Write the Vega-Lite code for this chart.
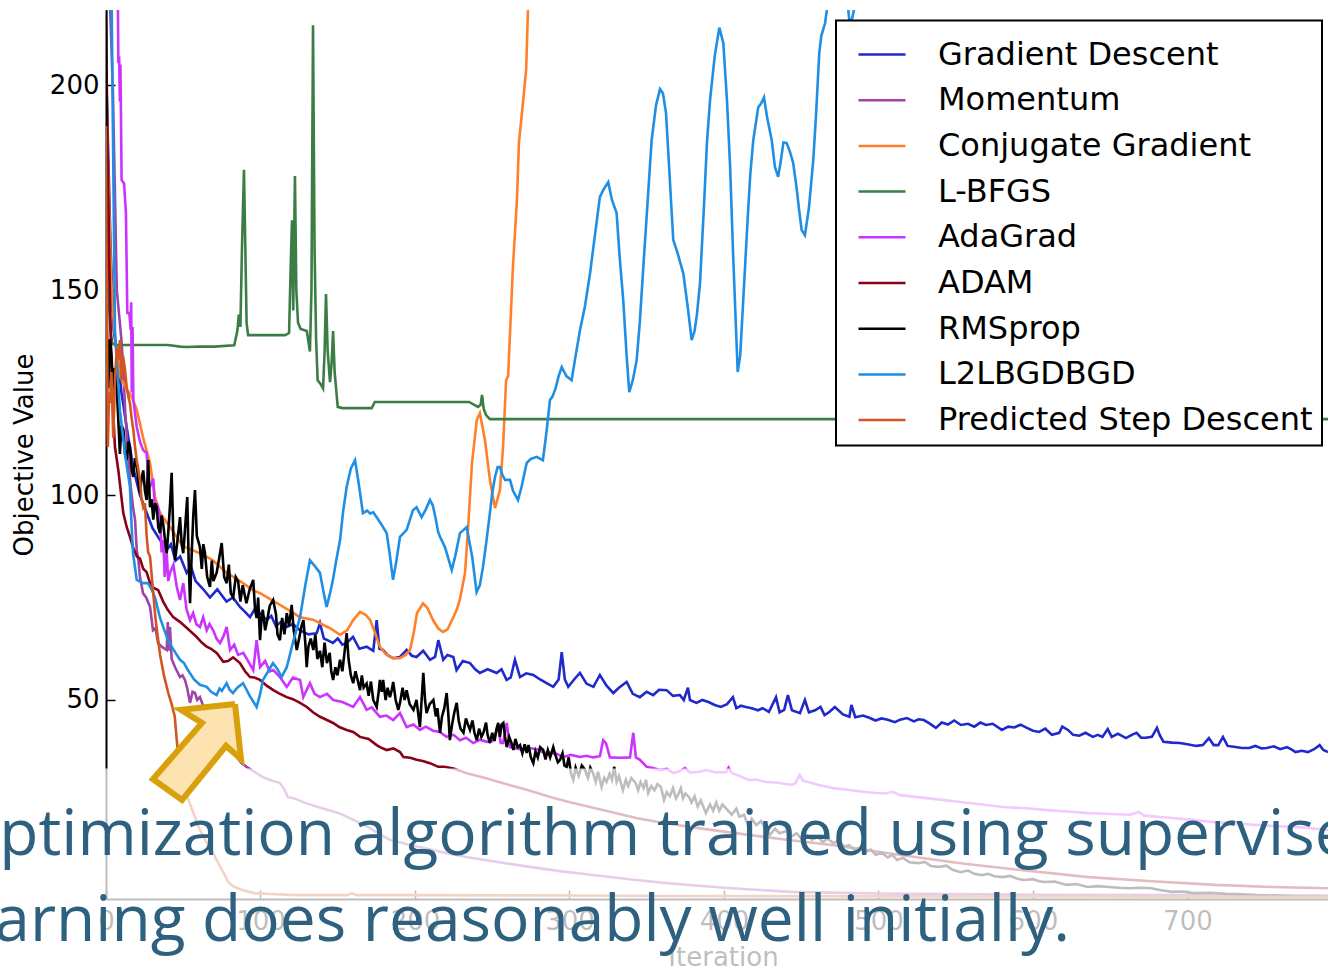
{
  "$schema": "https://vega.github.io/schema/vega-lite/v6.json",
  "width": 1222,
  "height": 889,
  "autosize": {"type": "none"},
  "padding": {"left": 106, "top": 10, "right": 0, "bottom": 69},
  "background": "white",
  "config": {
    "view": {"stroke": null},
    "font": "DejaVu Sans",
    "axis": {
      "grid": false,
      "labelFont": "DejaVu Sans",
      "labelFontSize": 26,
      "labelColor": "black",
      "titleFont": "DejaVu Sans",
      "titleFontSize": 26,
      "titleFontWeight": "normal",
      "titleColor": "black",
      "domainColor": "black",
      "domainWidth": 2,
      "tickColor": "black",
      "tickWidth": 1.5,
      "tickSize": -9,
      "labelOverlap": false,
      "labelFlush": false
    }
  },
  "datasets": {
    "curves": [
      {"m":"Gradient Descent","i":0,"v":205},{"m":"Gradient Descent","i":3,"v":160},{"m":"Gradient Descent","i":5,"v":140},{"m":"Gradient Descent","i":7,"v":135},{"m":"Gradient Descent","i":10,"v":125},{"m":"Gradient Descent","i":14,"v":115},{"m":"Gradient Descent","i":18,"v":106},{"m":"Gradient Descent","i":22,"v":100},{"m":"Gradient Descent","i":26,"v":96},{"m":"Gradient Descent","i":30,"v":92},{"m":"Gradient Descent","i":35,"v":89},{"m":"Gradient Descent","i":39.3,"v":86.6},{"m":"Gradient Descent","i":42,"v":88},{"m":"Gradient Descent","i":45,"v":84},{"m":"Gradient Descent","i":48,"v":85},{"m":"Gradient Descent","i":52.2,"v":81},{"m":"Gradient Descent","i":55,"v":82.5},{"m":"Gradient Descent","i":58,"v":79},{"m":"Gradient Descent","i":63,"v":77},{"m":"Gradient Descent","i":67.3,"v":75},{"m":"Gradient Descent","i":72,"v":77},{"m":"Gradient Descent","i":78,"v":74},{"m":"Gradient Descent","i":82.2,"v":75},{"m":"Gradient Descent","i":86.7,"v":72.7},{"m":"Gradient Descent","i":90,"v":71.5},{"m":"Gradient Descent","i":93.2,"v":70.2},{"m":"Gradient Descent","i":96,"v":72},{"m":"Gradient Descent","i":99.7,"v":71.2},{"m":"Gradient Descent","i":104,"v":69.5},{"m":"Gradient Descent","i":107,"v":70.5},{"m":"Gradient Descent","i":110,"v":68},{"m":"Gradient Descent","i":113,"v":69},{"m":"Gradient Descent","i":117,"v":67.8},{"m":"Gradient Descent","i":121,"v":68.5},{"m":"Gradient Descent","i":125.6,"v":67},{"m":"Gradient Descent","i":131,"v":66},{"m":"Gradient Descent","i":136.4,"v":66.3},{"m":"Gradient Descent","i":138.5,"v":68.8},{"m":"Gradient Descent","i":141,"v":65},{"m":"Gradient Descent","i":144,"v":64.5},{"m":"Gradient Descent","i":146.9,"v":63.9},{"m":"Gradient Descent","i":150,"v":65},{"m":"Gradient Descent","i":153,"v":63.5},{"m":"Gradient Descent","i":155.8,"v":63.9},{"m":"Gradient Descent","i":159.9,"v":65.4},{"m":"Gradient Descent","i":164,"v":62.5},{"m":"Gradient Descent","i":168.7,"v":63},{"m":"Gradient Descent","i":173,"v":62},{"m":"Gradient Descent","i":175.2,"v":69.5},{"m":"Gradient Descent","i":177,"v":62.5},{"m":"Gradient Descent","i":179.3,"v":62.2},{"m":"Gradient Descent","i":182,"v":61},{"m":"Gradient Descent","i":185.8,"v":60.2},{"m":"Gradient Descent","i":190.3,"v":60.5},{"m":"Gradient Descent","i":194.6,"v":62.2},{"m":"Gradient Descent","i":198,"v":60.8},{"m":"Gradient Descent","i":201,"v":60.5},{"m":"Gradient Descent","i":205.3,"v":62},{"m":"Gradient Descent","i":209.7,"v":59.8},{"m":"Gradient Descent","i":213,"v":60.5},{"m":"Gradient Descent","i":215.1,"v":64.6},{"m":"Gradient Descent","i":218.3,"v":59.8},{"m":"Gradient Descent","i":221,"v":61},{"m":"Gradient Descent","i":224.8,"v":60.5},{"m":"Gradient Descent","i":226.9,"v":57.3},{"m":"Gradient Descent","i":231,"v":59.5},{"m":"Gradient Descent","i":235.6,"v":59},{"m":"Gradient Descent","i":239,"v":57.5},{"m":"Gradient Descent","i":242,"v":56.6},{"m":"Gradient Descent","i":247,"v":57.5},{"m":"Gradient Descent","i":252.9,"v":56.6},{"m":"Gradient Descent","i":256,"v":57.5},{"m":"Gradient Descent","i":259.3,"v":54.9},{"m":"Gradient Descent","i":262,"v":55.5},{"m":"Gradient Descent","i":264.7,"v":59.8},{"m":"Gradient Descent","i":268,"v":55.6},{"m":"Gradient Descent","i":272,"v":56.5},{"m":"Gradient Descent","i":276.6,"v":56.1},{"m":"Gradient Descent","i":281,"v":55},{"m":"Gradient Descent","i":285.2,"v":54.1},{"m":"Gradient Descent","i":289.5,"v":53.2},{"m":"Gradient Descent","i":293,"v":55},{"m":"Gradient Descent","i":295,"v":61.7},{"m":"Gradient Descent","i":297,"v":55},{"m":"Gradient Descent","i":299.2,"v":53.2},{"m":"Gradient Descent","i":303,"v":55},{"m":"Gradient Descent","i":306.8,"v":56.6},{"m":"Gradient Descent","i":311,"v":54},{"m":"Gradient Descent","i":315.5,"v":53.2},{"m":"Gradient Descent","i":319.7,"v":56.1},{"m":"Gradient Descent","i":324,"v":53.5},{"m":"Gradient Descent","i":328.4,"v":51.7},{"m":"Gradient Descent","i":332,"v":53},{"m":"Gradient Descent","i":337,"v":54.4},{"m":"Gradient Descent","i":341,"v":51.5},{"m":"Gradient Descent","i":345.6,"v":50.7},{"m":"Gradient Descent","i":350,"v":52},{"m":"Gradient Descent","i":354.2,"v":51.2},{"m":"Gradient Descent","i":358,"v":52.5},{"m":"Gradient Descent","i":362.9,"v":52.4},{"m":"Gradient Descent","i":367,"v":51},{"m":"Gradient Descent","i":371.5,"v":51.2},{"m":"Gradient Descent","i":374,"v":50},{"m":"Gradient Descent","i":376.7,"v":53},{"m":"Gradient Descent","i":378,"v":50},{"m":"Gradient Descent","i":382.2,"v":49.3},{"m":"Gradient Descent","i":386,"v":50},{"m":"Gradient Descent","i":390,"v":49.5},{"m":"Gradient Descent","i":394,"v":48.8},{"m":"Gradient Descent","i":398,"v":48.3},{"m":"Gradient Descent","i":402,"v":49},{"m":"Gradient Descent","i":405.8,"v":50.7},{"m":"Gradient Descent","i":408,"v":48},{"m":"Gradient Descent","i":411,"v":48.6},{"m":"Gradient Descent","i":414.2,"v":48.3},{"m":"Gradient Descent","i":418,"v":48},{"m":"Gradient Descent","i":422,"v":47.5},{"m":"Gradient Descent","i":425,"v":48},{"m":"Gradient Descent","i":429.1,"v":47.1},{"m":"Gradient Descent","i":433.7,"v":50.7},{"m":"Gradient Descent","i":436,"v":47},{"m":"Gradient Descent","i":439,"v":47.6},{"m":"Gradient Descent","i":441.4,"v":51.2},{"m":"Gradient Descent","i":444,"v":47.5},{"m":"Gradient Descent","i":449.2,"v":46.8},{"m":"Gradient Descent","i":452.4,"v":50},{"m":"Gradient Descent","i":455,"v":47},{"m":"Gradient Descent","i":459,"v":47.5},{"m":"Gradient Descent","i":462.5,"v":48.3},{"m":"Gradient Descent","i":465.1,"v":46.3},{"m":"Gradient Descent","i":468,"v":47},{"m":"Gradient Descent","i":471.8,"v":48.3},{"m":"Gradient Descent","i":477,"v":46.5},{"m":"Gradient Descent","i":481.2,"v":45.9},{"m":"Gradient Descent","i":482.5,"v":48.8},{"m":"Gradient Descent","i":485,"v":45.8},{"m":"Gradient Descent","i":490,"v":46.2},{"m":"Gradient Descent","i":494.5,"v":45.6},{"m":"Gradient Descent","i":498,"v":45},{"m":"Gradient Descent","i":502,"v":45.5},{"m":"Gradient Descent","i":506,"v":45.2},{"m":"Gradient Descent","i":510.7,"v":44.6},{"m":"Gradient Descent","i":514,"v":45.2},{"m":"Gradient Descent","i":518.4,"v":45.6},{"m":"Gradient Descent","i":523,"v":44.8},{"m":"Gradient Descent","i":526,"v":45.3},{"m":"Gradient Descent","i":529.4,"v":45.1},{"m":"Gradient Descent","i":533,"v":44.3},{"m":"Gradient Descent","i":537.2,"v":43.2},{"m":"Gradient Descent","i":541,"v":44.5},{"m":"Gradient Descent","i":545,"v":44},{"m":"Gradient Descent","i":549,"v":45},{"m":"Gradient Descent","i":553.4,"v":43.9},{"m":"Gradient Descent","i":558,"v":44.2},{"m":"Gradient Descent","i":562,"v":43.5},{"m":"Gradient Descent","i":566,"v":44.5},{"m":"Gradient Descent","i":569.5,"v":43.9},{"m":"Gradient Descent","i":574,"v":44.2},{"m":"Gradient Descent","i":579.9,"v":42.7},{"m":"Gradient Descent","i":584,"v":43.5},{"m":"Gradient Descent","i":588,"v":43.3},{"m":"Gradient Descent","i":592,"v":44},{"m":"Gradient Descent","i":596.1,"v":43.2},{"m":"Gradient Descent","i":600,"v":42.5},{"m":"Gradient Descent","i":604,"v":42.2},{"m":"Gradient Descent","i":608,"v":43},{"m":"Gradient Descent","i":612.3,"v":41.5},{"m":"Gradient Descent","i":617,"v":42},{"m":"Gradient Descent","i":619,"v":43.5},{"m":"Gradient Descent","i":622.7,"v":42.7},{"m":"Gradient Descent","i":626,"v":41.5},{"m":"Gradient Descent","i":630,"v":41.3},{"m":"Gradient Descent","i":634,"v":42},{"m":"Gradient Descent","i":638.8,"v":41},{"m":"Gradient Descent","i":642,"v":41.5},{"m":"Gradient Descent","i":645,"v":41},{"m":"Gradient Descent","i":648.4,"v":42.9},{"m":"Gradient Descent","i":651,"v":41},{"m":"Gradient Descent","i":655,"v":41.8},{"m":"Gradient Descent","i":660.2,"v":40.7},{"m":"Gradient Descent","i":664,"v":41.5},{"m":"Gradient Descent","i":667.1,"v":42},{"m":"Gradient Descent","i":670,"v":40.8},{"m":"Gradient Descent","i":673,"v":40.8},{"m":"Gradient Descent","i":677,"v":41},{"m":"Gradient Descent","i":680.3,"v":43.2},{"m":"Gradient Descent","i":682,"v":41.5},{"m":"Gradient Descent","i":684.5,"v":39.8},{"m":"Gradient Descent","i":690,"v":39.6},{"m":"Gradient Descent","i":695,"v":39.5},{"m":"Gradient Descent","i":700,"v":39.2},{"m":"Gradient Descent","i":705.8,"v":38.8},{"m":"Gradient Descent","i":710,"v":39},{"m":"Gradient Descent","i":713.9,"v":40.7},{"m":"Gradient Descent","i":717,"v":39},{"m":"Gradient Descent","i":720,"v":39},{"m":"Gradient Descent","i":723,"v":41},{"m":"Gradient Descent","i":726,"v":38.8},{"m":"Gradient Descent","i":730,"v":38.6},{"m":"Gradient Descent","i":735.3,"v":38.3},{"m":"Gradient Descent","i":740,"v":38.3},{"m":"Gradient Descent","i":744,"v":38.8},{"m":"Gradient Descent","i":748,"v":38.2},{"m":"Gradient Descent","i":751.3,"v":38.3},{"m":"Gradient Descent","i":756,"v":38.7},{"m":"Gradient Descent","i":760,"v":38},{"m":"Gradient Descent","i":764.4,"v":38.5},{"m":"Gradient Descent","i":767,"v":38},{"m":"Gradient Descent","i":770,"v":37.3},{"m":"Gradient Descent","i":774,"v":37.6},{"m":"Gradient Descent","i":778,"v":37.3},{"m":"Gradient Descent","i":782,"v":38},{"m":"Gradient Descent","i":785.6,"v":39},{"m":"Gradient Descent","i":788,"v":37.8},{"m":"Gradient Descent","i":791,"v":37.3},

      {"m":"Momentum","i":0,"v":250},{"m":"Momentum","i":4.5,"v":198},{"m":"Momentum","i":7,"v":150},{"m":"Momentum","i":10,"v":137.8},{"m":"Momentum","i":11,"v":132},{"m":"Momentum","i":12.5,"v":120},{"m":"Momentum","i":14.2,"v":110},{"m":"Momentum","i":16,"v":102},{"m":"Momentum","i":17.5,"v":97},{"m":"Momentum","i":18.8,"v":94},{"m":"Momentum","i":19.9,"v":86.6},{"m":"Momentum","i":21,"v":84},{"m":"Momentum","i":22,"v":80},{"m":"Momentum","i":24,"v":76},{"m":"Momentum","i":26,"v":75},{"m":"Momentum","i":28.5,"v":72.7},{"m":"Momentum","i":30.4,"v":67},{"m":"Momentum","i":32,"v":67.5},{"m":"Momentum","i":33.7,"v":63.9},{"m":"Momentum","i":36,"v":63},{"m":"Momentum","i":39.3,"v":62.2},{"m":"Momentum","i":40,"v":69},{"m":"Momentum","i":40.8,"v":62},{"m":"Momentum","i":41.4,"v":67.8},{"m":"Momentum","i":42.5,"v":60},{"m":"Momentum","i":44.7,"v":58},{"m":"Momentum","i":46,"v":57},{"m":"Momentum","i":47.9,"v":55.6},{"m":"Momentum","i":49.5,"v":56},{"m":"Momentum","i":51.1,"v":54.9},{"m":"Momentum","i":52.5,"v":53},{"m":"Momentum","i":54.4,"v":49.3},{"m":"Momentum","i":56,"v":52},{"m":"Momentum","i":57.6,"v":51.7},{"m":"Momentum","i":59,"v":50},{"m":"Momentum","i":60.8,"v":50.7},{"m":"Momentum","i":63,"v":48.5},{"m":"Momentum","i":66,"v":46.5},{"m":"Momentum","i":69,"v":45},{"m":"Momentum","i":72,"v":43},{"m":"Momentum","i":75,"v":41.5},{"m":"Momentum","i":78,"v":39.5},{"m":"Momentum","i":81,"v":37.8},{"m":"Momentum","i":84.6,"v":36.1},{"m":"Momentum","i":87.7,"v":34.6},{"m":"Momentum","i":91,"v":33.7},{"m":"Momentum","i":96,"v":32.5},{"m":"Momentum","i":101.4,"v":31.2},{"m":"Momentum","i":106,"v":30.5},{"m":"Momentum","i":112.4,"v":29.8},{"m":"Momentum","i":115,"v":28.5},{"m":"Momentum","i":117.8,"v":26.3},{"m":"Momentum","i":122,"v":26},{"m":"Momentum","i":128.8,"v":24.9},{"m":"Momentum","i":140,"v":23.6},{"m":"Momentum","i":150.8,"v":22.4},{"m":"Momentum","i":160,"v":20.8},{"m":"Momentum","i":170,"v":19},{"m":"Momentum","i":177,"v":17.3},{"m":"Momentum","i":183.7,"v":15.9},{"m":"Momentum","i":195,"v":14.8},{"m":"Momentum","i":205.6,"v":13.9},{"m":"Momentum","i":220,"v":12.7},{"m":"Momentum","i":233,"v":11.7},{"m":"Momentum","i":255,"v":10.4},{"m":"Momentum","i":274.2,"v":9.3},{"m":"Momentum","i":295,"v":8.2},{"m":"Momentum","i":315.2,"v":7.3},{"m":"Momentum","i":340,"v":6.2},{"m":"Momentum","i":361.2,"v":5.4},{"m":"Momentum","i":400,"v":4.2},{"m":"Momentum","i":443.4,"v":3.2},{"m":"Momentum","i":500,"v":2.8},{"m":"Momentum","i":600,"v":2.5},{"m":"Momentum","i":700,"v":2.4},{"m":"Momentum","i":791,"v":2.3},

      {"m":"Conjugate Gradient","i":0,"v":205},{"m":"Conjugate Gradient","i":1,"v":185},{"m":"Conjugate Gradient","i":2,"v":170},{"m":"Conjugate Gradient","i":3,"v":157},{"m":"Conjugate Gradient","i":4,"v":147},{"m":"Conjugate Gradient","i":6,"v":138},{"m":"Conjugate Gradient","i":9,"v":129},{"m":"Conjugate Gradient","i":13,"v":126},{"m":"Conjugate Gradient","i":16.6,"v":124},{"m":"Conjugate Gradient","i":20,"v":120.7},{"m":"Conjugate Gradient","i":24,"v":114},{"m":"Conjugate Gradient","i":28.5,"v":107.8},{"m":"Conjugate Gradient","i":31.7,"v":99.5},{"m":"Conjugate Gradient","i":35,"v":95.6},{"m":"Conjugate Gradient","i":41.4,"v":92.2},{"m":"Conjugate Gradient","i":49.8,"v":87.5},{"m":"Conjugate Gradient","i":60.8,"v":85.8},{"m":"Conjugate Gradient","i":69,"v":84.1},{"m":"Conjugate Gradient","i":78.3,"v":81},{"m":"Conjugate Gradient","i":88.7,"v":78.5},{"m":"Conjugate Gradient","i":95,"v":76.8},{"m":"Conjugate Gradient","i":100,"v":76},{"m":"Conjugate Gradient","i":110.7,"v":73.6},{"m":"Conjugate Gradient","i":118,"v":72},{"m":"Conjugate Gradient","i":125.6,"v":70.2},{"m":"Conjugate Gradient","i":134,"v":69.6},{"m":"Conjugate Gradient","i":145,"v":67.5},{"m":"Conjugate Gradient","i":151.5,"v":65.9},{"m":"Conjugate Gradient","i":156,"v":67},{"m":"Conjugate Gradient","i":160,"v":69.5},{"m":"Conjugate Gradient","i":164.4,"v":71.5},{"m":"Conjugate Gradient","i":168,"v":70.8},{"m":"Conjugate Gradient","i":171,"v":69.5},{"m":"Conjugate Gradient","i":174,"v":66.5},{"m":"Conjugate Gradient","i":177.3,"v":63},{"m":"Conjugate Gradient","i":181,"v":61.2},{"m":"Conjugate Gradient","i":185.8,"v":60.2},{"m":"Conjugate Gradient","i":190.3,"v":60.2},{"m":"Conjugate Gradient","i":194,"v":61},{"m":"Conjugate Gradient","i":196.8,"v":62.2},{"m":"Conjugate Gradient","i":199,"v":66},{"m":"Conjugate Gradient","i":201.3,"v":71.2},{"m":"Conjugate Gradient","i":205.2,"v":73.6},{"m":"Conjugate Gradient","i":208,"v":72.5},{"m":"Conjugate Gradient","i":211.7,"v":69.5},{"m":"Conjugate Gradient","i":215,"v":67.5},{"m":"Conjugate Gradient","i":218,"v":66.6},{"m":"Conjugate Gradient","i":221,"v":67.2},{"m":"Conjugate Gradient","i":224,"v":69.5},{"m":"Conjugate Gradient","i":227,"v":72},{"m":"Conjugate Gradient","i":229,"v":74.4},{"m":"Conjugate Gradient","i":232.4,"v":81},{"m":"Conjugate Gradient","i":234.3,"v":91.5},{"m":"Conjugate Gradient","i":236.9,"v":107.8},{"m":"Conjugate Gradient","i":240,"v":118.3},{"m":"Conjugate Gradient","i":242,"v":120},{"m":"Conjugate Gradient","i":245.3,"v":113.4},{"m":"Conjugate Gradient","i":248.5,"v":103.7},{"m":"Conjugate Gradient","i":251.8,"v":96.8},{"m":"Conjugate Gradient","i":255,"v":101.2},{"m":"Conjugate Gradient","i":257,"v":111.7},{"m":"Conjugate Gradient","i":259,"v":128},{"m":"Conjugate Gradient","i":260.3,"v":129},{"m":"Conjugate Gradient","i":263.4,"v":155.6},{"m":"Conjugate Gradient","i":266,"v":172},{"m":"Conjugate Gradient","i":267.3,"v":186},{"m":"Conjugate Gradient","i":270,"v":196},{"m":"Conjugate Gradient","i":272,"v":204},{"m":"Conjugate Gradient","i":273.1,"v":218},{"m":"Conjugate Gradient","i":276,"v":240},

      {"m":"L-BFGS","i":0,"v":190},{"m":"L-BFGS","i":1,"v":160},{"m":"L-BFGS","i":2,"v":146},{"m":"L-BFGS","i":3,"v":140},{"m":"L-BFGS","i":4,"v":137},{"m":"L-BFGS","i":6,"v":136.6},{"m":"L-BFGS","i":20,"v":136.6},{"m":"L-BFGS","i":40,"v":136.6},{"m":"L-BFGS","i":48,"v":136.2},{"m":"L-BFGS","i":52,"v":136.1},{"m":"L-BFGS","i":60,"v":136.2},{"m":"L-BFGS","i":70,"v":136.2},{"m":"L-BFGS","i":83,"v":136.5},{"m":"L-BFGS","i":85,"v":140},{"m":"L-BFGS","i":86,"v":144},{"m":"L-BFGS","i":87,"v":141},{"m":"L-BFGS","i":88,"v":160},{"m":"L-BFGS","i":89.3,"v":179.3},{"m":"L-BFGS","i":90.2,"v":160},{"m":"L-BFGS","i":91,"v":142},{"m":"L-BFGS","i":92,"v":139},{"m":"L-BFGS","i":100,"v":139},{"m":"L-BFGS","i":110,"v":139},{"m":"L-BFGS","i":116,"v":139},{"m":"L-BFGS","i":118.5,"v":139.5},{"m":"L-BFGS","i":119.5,"v":155},{"m":"L-BFGS","i":120.4,"v":167},{"m":"L-BFGS","i":121.2,"v":145},{"m":"L-BFGS","i":122.3,"v":177.8},{"m":"L-BFGS","i":123.2,"v":150},{"m":"L-BFGS","i":124.3,"v":142},{"m":"L-BFGS","i":126,"v":140.5},{"m":"L-BFGS","i":130,"v":140},{"m":"L-BFGS","i":132,"v":135},{"m":"L-BFGS","i":133,"v":150},{"m":"L-BFGS","i":134,"v":214.6},{"m":"L-BFGS","i":135,"v":160},{"m":"L-BFGS","i":136,"v":138},{"m":"L-BFGS","i":137,"v":128},{"m":"L-BFGS","i":139,"v":127},{"m":"L-BFGS","i":140.5,"v":126},{"m":"L-BFGS","i":141.5,"v":135},{"m":"L-BFGS","i":142.4,"v":149},{"m":"L-BFGS","i":143.5,"v":135},{"m":"L-BFGS","i":145,"v":127.5},{"m":"L-BFGS","i":146,"v":132},{"m":"L-BFGS","i":147,"v":140},{"m":"L-BFGS","i":148,"v":130},{"m":"L-BFGS","i":150,"v":121.5},{"m":"L-BFGS","i":153,"v":121.2},{"m":"L-BFGS","i":172,"v":121.2},{"m":"L-BFGS","i":174,"v":122.7},{"m":"L-BFGS","i":200,"v":122.7},{"m":"L-BFGS","i":235,"v":122.7},{"m":"L-BFGS","i":240.8,"v":121.5},{"m":"L-BFGS","i":242.5,"v":122},{"m":"L-BFGS","i":243.4,"v":124.4},{"m":"L-BFGS","i":244.5,"v":121},{"m":"L-BFGS","i":246,"v":119.5},{"m":"L-BFGS","i":248.5,"v":118.5},{"m":"L-BFGS","i":300,"v":118.5},{"m":"L-BFGS","i":500,"v":118.5},{"m":"L-BFGS","i":791,"v":118.5},

      {"m":"AdaGrad","i":0,"v":300},{"m":"AdaGrad","i":7.5,"v":230},{"m":"AdaGrad","i":8,"v":205.4},{"m":"AdaGrad","i":8.5,"v":207},{"m":"AdaGrad","i":9,"v":196},{"m":"AdaGrad","i":9.3,"v":205},{"m":"AdaGrad","i":9.6,"v":196.3},{"m":"AdaGrad","i":10.1,"v":176.8},{"m":"AdaGrad","i":11.7,"v":176},{"m":"AdaGrad","i":12.9,"v":168.8},{"m":"AdaGrad","i":13.8,"v":144.4},{"m":"AdaGrad","i":15.1,"v":144.4},{"m":"AdaGrad","i":16,"v":140.2},{"m":"AdaGrad","i":16.3,"v":147},{"m":"AdaGrad","i":16.7,"v":125},{"m":"AdaGrad","i":17.2,"v":141},{"m":"AdaGrad","i":17.7,"v":123.2},{"m":"AdaGrad","i":19.9,"v":116.6},{"m":"AdaGrad","i":22,"v":113},{"m":"AdaGrad","i":24,"v":111},{"m":"AdaGrad","i":26.3,"v":110.2},{"m":"AdaGrad","i":27.5,"v":103},{"m":"AdaGrad","i":28.5,"v":102},{"m":"AdaGrad","i":30.6,"v":104},{"m":"AdaGrad","i":31.7,"v":96.3},{"m":"AdaGrad","i":33,"v":98},{"m":"AdaGrad","i":35,"v":94.6},{"m":"AdaGrad","i":36,"v":86},{"m":"AdaGrad","i":37.1,"v":89},{"m":"AdaGrad","i":38,"v":80},{"m":"AdaGrad","i":39.3,"v":85.8},{"m":"AdaGrad","i":40.3,"v":79},{"m":"AdaGrad","i":41.4,"v":81},{"m":"AdaGrad","i":43.6,"v":83},{"m":"AdaGrad","i":45.8,"v":77.6},{"m":"AdaGrad","i":47.9,"v":74.4},{"m":"AdaGrad","i":50,"v":78.5},{"m":"AdaGrad","i":52.2,"v":72},{"m":"AdaGrad","i":54.4,"v":69.5},{"m":"AdaGrad","i":56.4,"v":71.2},{"m":"AdaGrad","i":58.5,"v":68.5},{"m":"AdaGrad","i":60.8,"v":67.8},{"m":"AdaGrad","i":62.9,"v":70.2},{"m":"AdaGrad","i":65.2,"v":67},{"m":"AdaGrad","i":67,"v":68.5},{"m":"AdaGrad","i":69.4,"v":67},{"m":"AdaGrad","i":71.5,"v":65},{"m":"AdaGrad","i":73.8,"v":63.9},{"m":"AdaGrad","i":76,"v":65.5},{"m":"AdaGrad","i":78.1,"v":67.8},{"m":"AdaGrad","i":80.3,"v":62.2},{"m":"AdaGrad","i":83,"v":63.5},{"m":"AdaGrad","i":85.5,"v":61},{"m":"AdaGrad","i":88.9,"v":61.5},{"m":"AdaGrad","i":92,"v":59.5},{"m":"AdaGrad","i":95.3,"v":57.3},{"m":"AdaGrad","i":97.5,"v":64.6},{"m":"AdaGrad","i":99.7,"v":58},{"m":"AdaGrad","i":103,"v":59.5},{"m":"AdaGrad","i":106,"v":57},{"m":"AdaGrad","i":108.3,"v":57.3},{"m":"AdaGrad","i":112.6,"v":55.6},{"m":"AdaGrad","i":117,"v":53.2},{"m":"AdaGrad","i":121,"v":55.5},{"m":"AdaGrad","i":125.6,"v":54.9},{"m":"AdaGrad","i":127.7,"v":50.7},{"m":"AdaGrad","i":132,"v":54.1},{"m":"AdaGrad","i":135,"v":51.5},{"m":"AdaGrad","i":138.5,"v":50.7},{"m":"AdaGrad","i":143,"v":51.5},{"m":"AdaGrad","i":147.1,"v":50},{"m":"AdaGrad","i":153,"v":49.5},{"m":"AdaGrad","i":160,"v":48.3},{"m":"AdaGrad","i":164.4,"v":50.7},{"m":"AdaGrad","i":168.7,"v":47.6},{"m":"AdaGrad","i":172,"v":48.2},{"m":"AdaGrad","i":177.3,"v":45.9},{"m":"AdaGrad","i":181.6,"v":46.2},{"m":"AdaGrad","i":185.9,"v":45.1},{"m":"AdaGrad","i":190.3,"v":46.8},{"m":"AdaGrad","i":194.6,"v":43.4},{"m":"AdaGrad","i":199,"v":44},{"m":"AdaGrad","i":203.2,"v":42.7},{"m":"AdaGrad","i":207,"v":43.5},{"m":"AdaGrad","i":211.7,"v":42.5},{"m":"AdaGrad","i":216,"v":42.2},{"m":"AdaGrad","i":220.5,"v":41},{"m":"AdaGrad","i":225,"v":41.5},{"m":"AdaGrad","i":229.1,"v":40.2},{"m":"AdaGrad","i":233,"v":40.8},{"m":"AdaGrad","i":237.7,"v":39.5},{"m":"AdaGrad","i":242,"v":40.3},{"m":"AdaGrad","i":246.4,"v":39.8},{"m":"AdaGrad","i":250,"v":40},{"m":"AdaGrad","i":253.9,"v":43.4},{"m":"AdaGrad","i":255.5,"v":39.5},{"m":"AdaGrad","i":257,"v":39.5},{"m":"AdaGrad","i":259.4,"v":44.4},{"m":"AdaGrad","i":261.5,"v":38.5},{"m":"AdaGrad","i":266,"v":38.2},{"m":"AdaGrad","i":270.1,"v":37.8},{"m":"AdaGrad","i":274,"v":38.3},{"m":"AdaGrad","i":278.8,"v":38},{"m":"AdaGrad","i":283,"v":37.2},{"m":"AdaGrad","i":287.4,"v":37.1},{"m":"AdaGrad","i":292,"v":36.8},{"m":"AdaGrad","i":296,"v":36.1},{"m":"AdaGrad","i":301,"v":36.6},{"m":"AdaGrad","i":306.8,"v":36.1},{"m":"AdaGrad","i":311,"v":36.4},{"m":"AdaGrad","i":315.4,"v":36},{"m":"AdaGrad","i":319.7,"v":36.3},{"m":"AdaGrad","i":321.8,"v":40.2},{"m":"AdaGrad","i":323.6,"v":39.5},{"m":"AdaGrad","i":326.2,"v":36},{"m":"AdaGrad","i":332.7,"v":35.9},{"m":"AdaGrad","i":339.2,"v":36},{"m":"AdaGrad","i":341.3,"v":42},{"m":"AdaGrad","i":343,"v":36},{"m":"AdaGrad","i":345.6,"v":35.4},{"m":"AdaGrad","i":350,"v":33.7},{"m":"AdaGrad","i":354,"v":33.4},{"m":"AdaGrad","i":358.6,"v":32.9},{"m":"AdaGrad","i":363,"v":33.2},{"m":"AdaGrad","i":367.2,"v":32.2},{"m":"AdaGrad","i":371,"v":32.6},{"m":"AdaGrad","i":374.8,"v":33.4},{"m":"AdaGrad","i":378,"v":32.3},{"m":"AdaGrad","i":384.5,"v":32.5},{"m":"AdaGrad","i":388.3,"v":32.9},{"m":"AdaGrad","i":395,"v":32.3},{"m":"AdaGrad","i":401.3,"v":32.4},{"m":"AdaGrad","i":403,"v":33.5},{"m":"AdaGrad","i":405,"v":32.2},{"m":"AdaGrad","i":410,"v":31.5},{"m":"AdaGrad","i":415.9,"v":30.5},{"m":"AdaGrad","i":421,"v":30.6},{"m":"AdaGrad","i":427,"v":30},{"m":"AdaGrad","i":435,"v":29.8},{"m":"AdaGrad","i":443.4,"v":29.3},{"m":"AdaGrad","i":446,"v":29.6},{"m":"AdaGrad","i":449,"v":31.7},{"m":"AdaGrad","i":451,"v":30.4},{"m":"AdaGrad","i":454.4,"v":30},{"m":"AdaGrad","i":462,"v":29.2},{"m":"AdaGrad","i":470.9,"v":28.5},{"m":"AdaGrad","i":480,"v":28.1},{"m":"AdaGrad","i":490,"v":27.6},{"m":"AdaGrad","i":498.3,"v":27.3},{"m":"AdaGrad","i":504,"v":27.2},{"m":"AdaGrad","i":509,"v":27.6},{"m":"AdaGrad","i":514,"v":26.8},{"m":"AdaGrad","i":525.6,"v":26.3},{"m":"AdaGrad","i":540,"v":25.7},{"m":"AdaGrad","i":553,"v":25.1},{"m":"AdaGrad","i":567,"v":24.5},{"m":"AdaGrad","i":580.6,"v":23.9},{"m":"AdaGrad","i":595,"v":23.6},{"m":"AdaGrad","i":607.8,"v":23.2},{"m":"AdaGrad","i":622,"v":22.8},{"m":"AdaGrad","i":635.6,"v":22.4},{"m":"AdaGrad","i":650,"v":22.2},{"m":"AdaGrad","i":662.8,"v":22},{"m":"AdaGrad","i":668.4,"v":22.7},{"m":"AdaGrad","i":672,"v":21.8},{"m":"AdaGrad","i":690.3,"v":21.2},{"m":"AdaGrad","i":705,"v":20.7},{"m":"AdaGrad","i":717.8,"v":20.2},{"m":"AdaGrad","i":730,"v":19.9},{"m":"AdaGrad","i":745.3,"v":19.5},{"m":"AdaGrad","i":760,"v":19.2},{"m":"AdaGrad","i":772.5,"v":19},{"m":"AdaGrad","i":791,"v":18.3},

      {"m":"ADAM","i":0,"v":215},{"m":"ADAM","i":1,"v":185},{"m":"ADAM","i":2,"v":160},{"m":"ADAM","i":3,"v":140},{"m":"ADAM","i":4,"v":125},{"m":"ADAM","i":5.8,"v":111.7},{"m":"ADAM","i":8,"v":106},{"m":"ADAM","i":10.2,"v":98.8},{"m":"ADAM","i":11.2,"v":95.6},{"m":"ADAM","i":13.4,"v":92.2},{"m":"ADAM","i":15.5,"v":89.8},{"m":"ADAM","i":17.7,"v":87},{"m":"ADAM","i":20,"v":85},{"m":"ADAM","i":22,"v":84.5},{"m":"ADAM","i":24.1,"v":82},{"m":"ADAM","i":26.3,"v":81.2},{"m":"ADAM","i":28.5,"v":78.5},{"m":"ADAM","i":30.6,"v":77.4},{"m":"ADAM","i":33.8,"v":76.8},{"m":"ADAM","i":37,"v":74},{"m":"ADAM","i":40,"v":72},{"m":"ADAM","i":43.5,"v":70.2},{"m":"ADAM","i":48,"v":69},{"m":"ADAM","i":52.2,"v":67.6},{"m":"ADAM","i":58.6,"v":65.4},{"m":"ADAM","i":62,"v":64},{"m":"ADAM","i":65.2,"v":63},{"m":"ADAM","i":68,"v":62.5},{"m":"ADAM","i":71.6,"v":61.5},{"m":"ADAM","i":75.9,"v":59.3},{"m":"ADAM","i":79,"v":59.5},{"m":"ADAM","i":82.3,"v":60.4},{"m":"ADAM","i":86.7,"v":59},{"m":"ADAM","i":90,"v":57},{"m":"ADAM","i":93.2,"v":55.6},{"m":"ADAM","i":96,"v":55.5},{"m":"ADAM","i":99.7,"v":54.9},{"m":"ADAM","i":104,"v":53.5},{"m":"ADAM","i":108.3,"v":52.4},{"m":"ADAM","i":112,"v":51.6},{"m":"ADAM","i":117,"v":50.7},{"m":"ADAM","i":121,"v":50.2},{"m":"ADAM","i":125.6,"v":49.3},{"m":"ADAM","i":130,"v":48.3},{"m":"ADAM","i":134,"v":47},{"m":"ADAM","i":138.5,"v":45.9},{"m":"ADAM","i":142,"v":45.3},{"m":"ADAM","i":147,"v":44.4},{"m":"ADAM","i":151,"v":43.4},{"m":"ADAM","i":155.8,"v":42.7},{"m":"ADAM","i":160,"v":42.2},{"m":"ADAM","i":164.4,"v":41},{"m":"ADAM","i":170,"v":40.5},{"m":"ADAM","i":175.2,"v":39},{"m":"ADAM","i":177.3,"v":38.5},{"m":"ADAM","i":181.7,"v":37.8},{"m":"ADAM","i":186,"v":38.2},{"m":"ADAM","i":190.3,"v":37.3},{"m":"ADAM","i":192.5,"v":36.1},{"m":"ADAM","i":197,"v":35.9},{"m":"ADAM","i":201,"v":35.4},{"m":"ADAM","i":205,"v":35.1},{"m":"ADAM","i":209.7,"v":34.6},{"m":"ADAM","i":215,"v":33.7},{"m":"ADAM","i":219,"v":33.7},{"m":"ADAM","i":225,"v":33.3},{"m":"ADAM","i":233,"v":32.2},{"m":"ADAM","i":246,"v":30.9},{"m":"ADAM","i":260.5,"v":29.3},{"m":"ADAM","i":274,"v":27.9},{"m":"ADAM","i":288,"v":26.3},{"m":"ADAM","i":301,"v":25},{"m":"ADAM","i":315.3,"v":23.7},{"m":"ADAM","i":329,"v":22.5},{"m":"ADAM","i":343,"v":21.2},{"m":"ADAM","i":361,"v":20},{"m":"ADAM","i":388,"v":18.5},{"m":"ADAM","i":415.9,"v":17.1},{"m":"ADAM","i":443,"v":15.8},{"m":"ADAM","i":471,"v":14.6},{"m":"ADAM","i":512,"v":12.3},{"m":"ADAM","i":553,"v":10.2},{"m":"ADAM","i":595,"v":8.4},{"m":"ADAM","i":636,"v":6.8},{"m":"ADAM","i":677,"v":5.8},{"m":"ADAM","i":718,"v":4.9},{"m":"ADAM","i":755,"v":4.4},{"m":"ADAM","i":791,"v":4.1},

      {"m":"RMSprop","i":0,"v":220},{"m":"RMSprop","i":0.6,"v":140},{"m":"RMSprop","i":1.5,"v":126},{"m":"RMSprop","i":2.5,"v":138},{"m":"RMSprop","i":3.6,"v":133.7},{"m":"RMSprop","i":4.5,"v":126},{"m":"RMSprop","i":5.5,"v":131},{"m":"RMSprop","i":6.7,"v":128},{"m":"RMSprop","i":8,"v":118},{"m":"RMSprop","i":9,"v":110},{"m":"RMSprop","i":10,"v":117},{"m":"RMSprop","i":11.3,"v":115.9},{"m":"RMSprop","i":12.3,"v":110},{"m":"RMSprop","i":13.4,"v":108.5},{"m":"RMSprop","i":14.5,"v":113},{"m":"RMSprop","i":15.5,"v":111.7},{"m":"RMSprop","i":16.6,"v":106},{"m":"RMSprop","i":17.7,"v":104.4},{"m":"RMSprop","i":18.8,"v":109},{"m":"RMSprop","i":19.9,"v":107.8},{"m":"RMSprop","i":21,"v":103},{"m":"RMSprop","i":22,"v":100.5},{"m":"RMSprop","i":23,"v":104},{"m":"RMSprop","i":24.1,"v":106},{"m":"RMSprop","i":25.2,"v":101},{"m":"RMSprop","i":26.3,"v":98.8},{"m":"RMSprop","i":27.3,"v":108.5},{"m":"RMSprop","i":28.5,"v":97},{"m":"RMSprop","i":29.5,"v":99},{"m":"RMSprop","i":30.6,"v":94},{"m":"RMSprop","i":31.7,"v":98},{"m":"RMSprop","i":32.8,"v":97},{"m":"RMSprop","i":33.9,"v":92},{"m":"RMSprop","i":35,"v":90.7},{"m":"RMSprop","i":36,"v":95},{"m":"RMSprop","i":37,"v":93},{"m":"RMSprop","i":38.2,"v":89},{"m":"RMSprop","i":39.3,"v":85.8},{"m":"RMSprop","i":40.5,"v":92},{"m":"RMSprop","i":41.5,"v":98},{"m":"RMSprop","i":42.5,"v":105.4},{"m":"RMSprop","i":43.6,"v":90},{"m":"RMSprop","i":44.7,"v":84.1},{"m":"RMSprop","i":46,"v":88},{"m":"RMSprop","i":47.9,"v":94.6},{"m":"RMSprop","i":49,"v":88},{"m":"RMSprop","i":50,"v":85.8},{"m":"RMSprop","i":51.2,"v":92},{"m":"RMSprop","i":52.6,"v":99.5},{"m":"RMSprop","i":53.5,"v":84},{"m":"RMSprop","i":54.4,"v":73.6},{"m":"RMSprop","i":55.5,"v":86},{"m":"RMSprop","i":56.5,"v":95},{"m":"RMSprop","i":57.6,"v":101.2},{"m":"RMSprop","i":58.8,"v":90},{"m":"RMSprop","i":60.8,"v":87.3},{"m":"RMSprop","i":62,"v":82},{"m":"RMSprop","i":63,"v":88},{"m":"RMSprop","i":64,"v":86},{"m":"RMSprop","i":65.5,"v":80},{"m":"RMSprop","i":67.3,"v":77.6},{"m":"RMSprop","i":68.5,"v":84},{"m":"RMSprop","i":69.5,"v":79},{"m":"RMSprop","i":71.6,"v":81},{"m":"RMSprop","i":73,"v":84},{"m":"RMSprop","i":74.9,"v":88.3},{"m":"RMSprop","i":76.5,"v":80},{"m":"RMSprop","i":78.1,"v":78.5},{"m":"RMSprop","i":79.5,"v":83},{"m":"RMSprop","i":80.8,"v":76},{"m":"RMSprop","i":82.3,"v":75},{"m":"RMSprop","i":84,"v":80},{"m":"RMSprop","i":85.5,"v":79},{"m":"RMSprop","i":87,"v":74},{"m":"RMSprop","i":88.5,"v":78},{"m":"RMSprop","i":90.9,"v":73.6},{"m":"RMSprop","i":93,"v":77},{"m":"RMSprop","i":95.3,"v":79.3},{"m":"RMSprop","i":96.5,"v":72},{"m":"RMSprop","i":97.5,"v":70},{"m":"RMSprop","i":98.5,"v":75},{"m":"RMSprop","i":99.7,"v":64.6},{"m":"RMSprop","i":100.7,"v":70},{"m":"RMSprop","i":101.5,"v":72},{"m":"RMSprop","i":103,"v":67},{"m":"RMSprop","i":104,"v":68.8},{"m":"RMSprop","i":106,"v":73},{"m":"RMSprop","i":108.2,"v":74.4},{"m":"RMSprop","i":110,"v":71},{"m":"RMSprop","i":111,"v":66},{"m":"RMSprop","i":112.6,"v":64.6},{"m":"RMSprop","i":114,"v":70},{"m":"RMSprop","i":115.5,"v":66},{"m":"RMSprop","i":117,"v":71.2},{"m":"RMSprop","i":118.5,"v":68},{"m":"RMSprop","i":120.2,"v":73.2},{"m":"RMSprop","i":121.5,"v":67},{"m":"RMSprop","i":123.5,"v":62.2},{"m":"RMSprop","i":125,"v":65},{"m":"RMSprop","i":126.5,"v":68},{"m":"RMSprop","i":127.8,"v":69.5},{"m":"RMSprop","i":129,"v":64},{"m":"RMSprop","i":129.9,"v":58},{"m":"RMSprop","i":131,"v":63},{"m":"RMSprop","i":132.5,"v":65},{"m":"RMSprop","i":134.2,"v":62.2},{"m":"RMSprop","i":135.5,"v":66},{"m":"RMSprop","i":136.8,"v":60},{"m":"RMSprop","i":138.5,"v":62},{"m":"RMSprop","i":140,"v":58},{"m":"RMSprop","i":141.5,"v":64},{"m":"RMSprop","i":143,"v":59},{"m":"RMSprop","i":144.8,"v":61.5},{"m":"RMSprop","i":145.8,"v":57},{"m":"RMSprop","i":147,"v":54.9},{"m":"RMSprop","i":148.5,"v":58},{"m":"RMSprop","i":149.8,"v":56},{"m":"RMSprop","i":151.5,"v":59.8},{"m":"RMSprop","i":153,"v":57},{"m":"RMSprop","i":154.5,"v":62},{"m":"RMSprop","i":155.8,"v":66.3},{"m":"RMSprop","i":157,"v":60},{"m":"RMSprop","i":158.5,"v":56},{"m":"RMSprop","i":160,"v":54.1},{"m":"RMSprop","i":161.5,"v":57},{"m":"RMSprop","i":162.8,"v":55},{"m":"RMSprop","i":164.4,"v":52.4},{"m":"RMSprop","i":165.6,"v":56},{"m":"RMSprop","i":166.8,"v":53},{"m":"RMSprop","i":168.7,"v":54},{"m":"RMSprop","i":170,"v":51},{"m":"RMSprop","i":171.5,"v":54.5},{"m":"RMSprop","i":173,"v":50},{"m":"RMSprop","i":175.2,"v":48.3},{"m":"RMSprop","i":176.5,"v":52},{"m":"RMSprop","i":177.3,"v":54.9},{"m":"RMSprop","i":178.5,"v":52},{"m":"RMSprop","i":179.4,"v":54.9},{"m":"RMSprop","i":181,"v":50},{"m":"RMSprop","i":182.3,"v":53},{"m":"RMSprop","i":183.8,"v":50.7},{"m":"RMSprop","i":185,"v":52.5},{"m":"RMSprop","i":185.9,"v":54.4},{"m":"RMSprop","i":187.5,"v":50},{"m":"RMSprop","i":189.2,"v":47.6},{"m":"RMSprop","i":190.3,"v":49.3},{"m":"RMSprop","i":192,"v":53},{"m":"RMSprop","i":193.3,"v":50},{"m":"RMSprop","i":194.6,"v":52.4},{"m":"RMSprop","i":196.5,"v":49},{"m":"RMSprop","i":199,"v":47.6},{"m":"RMSprop","i":201,"v":50},{"m":"RMSprop","i":203.2,"v":43.4},{"m":"RMSprop","i":204.3,"v":50},{"m":"RMSprop","i":205.4,"v":56.6},{"m":"RMSprop","i":206.5,"v":50},{"m":"RMSprop","i":207.5,"v":46.8},{"m":"RMSprop","i":209.5,"v":49},{"m":"RMSprop","i":211.9,"v":50},{"m":"RMSprop","i":213.5,"v":46},{"m":"RMSprop","i":214.5,"v":48},{"m":"RMSprop","i":216.2,"v":42},{"m":"RMSprop","i":217.5,"v":46},{"m":"RMSprop","i":219,"v":48},{"m":"RMSprop","i":220.5,"v":51.7},{"m":"RMSprop","i":221.5,"v":47},{"m":"RMSprop","i":222.6,"v":40.2},{"m":"RMSprop","i":224,"v":44},{"m":"RMSprop","i":225.5,"v":47},{"m":"RMSprop","i":227,"v":49.3},{"m":"RMSprop","i":228.3,"v":45},{"m":"RMSprop","i":229.5,"v":43},{"m":"RMSprop","i":231.4,"v":42},{"m":"RMSprop","i":233,"v":45.5},{"m":"RMSprop","i":234.3,"v":44},{"m":"RMSprop","i":235.6,"v":42.7},{"m":"RMSprop","i":237.2,"v":45},{"m":"RMSprop","i":238.5,"v":42},{"m":"RMSprop","i":240,"v":40.2},{"m":"RMSprop","i":241.5,"v":43},{"m":"RMSprop","i":243,"v":41},{"m":"RMSprop","i":244.3,"v":42},{"m":"RMSprop","i":246,"v":44.5},{"m":"RMSprop","i":247,"v":41.5},{"m":"RMSprop","i":248.5,"v":39.5},{"m":"RMSprop","i":250,"v":42},{"m":"RMSprop","i":251.5,"v":40},{"m":"RMSprop","i":252.8,"v":43},{"m":"RMSprop","i":253.9,"v":44.4},{"m":"RMSprop","i":255,"v":41},{"m":"RMSprop","i":256,"v":44},{"m":"RMSprop","i":257.2,"v":44.4},{"m":"RMSprop","i":258.3,"v":41},{"m":"RMSprop","i":259.4,"v":38.5},{"m":"RMSprop","i":261,"v":41},{"m":"RMSprop","i":262.5,"v":39.5},{"m":"RMSprop","i":263.7,"v":37.8},{"m":"RMSprop","i":265,"v":40.5},{"m":"RMSprop","i":266.5,"v":38.5},{"m":"RMSprop","i":268,"v":39},{"m":"RMSprop","i":269.5,"v":37},{"m":"RMSprop","i":271,"v":39.2},{"m":"RMSprop","i":272.3,"v":37.1},{"m":"RMSprop","i":273.5,"v":39},{"m":"RMSprop","i":275,"v":36},{"m":"RMSprop","i":276.6,"v":34.6},{"m":"RMSprop","i":278,"v":37.5},{"m":"RMSprop","i":279.5,"v":36},{"m":"RMSprop","i":281,"v":38.5},{"m":"RMSprop","i":283,"v":37.8},{"m":"RMSprop","i":284.5,"v":35.5},{"m":"RMSprop","i":286,"v":37.8},{"m":"RMSprop","i":287.5,"v":36},{"m":"RMSprop","i":289.5,"v":38.5},{"m":"RMSprop","i":291,"v":36.5},{"m":"RMSprop","i":292.5,"v":34.8},{"m":"RMSprop","i":293.9,"v":35.4},{"m":"RMSprop","i":295.5,"v":37},{"m":"RMSprop","i":296.8,"v":34},{"m":"RMSprop","i":298.2,"v":33.7},{"m":"RMSprop","i":299.5,"v":36},{"m":"RMSprop","i":301,"v":32},{"m":"RMSprop","i":302.5,"v":30.5},{"m":"RMSprop","i":304,"v":33.5},{"m":"RMSprop","i":306,"v":31.5},{"m":"RMSprop","i":308,"v":34},{"m":"RMSprop","i":310,"v":33},{"m":"RMSprop","i":312,"v":31},{"m":"RMSprop","i":313.5,"v":33.5},{"m":"RMSprop","i":315.2,"v":32.2},{"m":"RMSprop","i":317,"v":30},{"m":"RMSprop","i":318.5,"v":32.5},{"m":"RMSprop","i":320.8,"v":28.8},{"m":"RMSprop","i":322.5,"v":31},{"m":"RMSprop","i":324,"v":30},{"m":"RMSprop","i":326,"v":32},{"m":"RMSprop","i":327.5,"v":30.5},{"m":"RMSprop","i":329,"v":33.7},{"m":"RMSprop","i":330.5,"v":30},{"m":"RMSprop","i":332,"v":31.5},{"m":"RMSprop","i":334.6,"v":28},{"m":"RMSprop","i":336.5,"v":30.5},{"m":"RMSprop","i":338,"v":29},{"m":"RMSprop","i":340,"v":31},{"m":"RMSprop","i":342.8,"v":29.8},{"m":"RMSprop","i":344.5,"v":28},{"m":"RMSprop","i":346,"v":30},{"m":"RMSprop","i":348,"v":28.5},{"m":"RMSprop","i":349.5,"v":30.5},{"m":"RMSprop","i":351,"v":27.3},{"m":"RMSprop","i":353,"v":29},{"m":"RMSprop","i":355,"v":28},{"m":"RMSprop","i":357,"v":29.5},{"m":"RMSprop","i":359.2,"v":28.8},{"m":"RMSprop","i":361.2,"v":25.6},{"m":"RMSprop","i":363,"v":27.5},{"m":"RMSprop","i":365,"v":26.5},{"m":"RMSprop","i":367,"v":28.5},{"m":"RMSprop","i":369,"v":26},{"m":"RMSprop","i":370.5,"v":27},{"m":"RMSprop","i":372.1,"v":28.5},{"m":"RMSprop","i":373.5,"v":26},{"m":"RMSprop","i":375,"v":27.2},{"m":"RMSprop","i":377.5,"v":26.3},{"m":"RMSprop","i":379,"v":25},{"m":"RMSprop","i":381,"v":26.5},{"m":"RMSprop","i":383,"v":24},{"m":"RMSprop","i":385,"v":25.5},{"m":"RMSprop","i":388.3,"v":22.4},{"m":"RMSprop","i":391,"v":24.5},{"m":"RMSprop","i":393,"v":23},{"m":"RMSprop","i":395,"v":25},{"m":"RMSprop","i":397,"v":23},{"m":"RMSprop","i":399,"v":24.5},{"m":"RMSprop","i":402.3,"v":23.2},{"m":"RMSprop","i":405,"v":22},{"m":"RMSprop","i":408,"v":23.5},{"m":"RMSprop","i":410,"v":21.5},{"m":"RMSprop","i":413,"v":22},{"m":"RMSprop","i":415.9,"v":19},{"m":"RMSprop","i":418,"v":21},{"m":"RMSprop","i":421,"v":19.5},{"m":"RMSprop","i":424,"v":20.5},{"m":"RMSprop","i":427,"v":18.5},{"m":"RMSprop","i":429.8,"v":17.1},{"m":"RMSprop","i":433,"v":18.6},{"m":"RMSprop","i":436,"v":17.5},{"m":"RMSprop","i":440,"v":18},{"m":"RMSprop","i":443.4,"v":16.6},{"m":"RMSprop","i":447,"v":17.5},{"m":"RMSprop","i":450,"v":16.2},{"m":"RMSprop","i":454,"v":17},{"m":"RMSprop","i":457,"v":15.9},{"m":"RMSprop","i":461,"v":16.6},{"m":"RMSprop","i":464,"v":15.3},{"m":"RMSprop","i":467,"v":16.2},{"m":"RMSprop","i":470.9,"v":15.1},{"m":"RMSprop","i":474,"v":15.7},{"m":"RMSprop","i":478,"v":14.2},{"m":"RMSprop","i":481,"v":14.6},{"m":"RMSprop","i":484.6,"v":13.4},{"m":"RMSprop","i":488,"v":14},{"m":"RMSprop","i":492,"v":13},{"m":"RMSprop","i":495,"v":13.5},{"m":"RMSprop","i":498.3,"v":12.2},{"m":"RMSprop","i":502,"v":12.8},{"m":"RMSprop","i":506,"v":11.6},{"m":"RMSprop","i":509,"v":12.2},{"m":"RMSprop","i":512,"v":11},{"m":"RMSprop","i":516,"v":11.5},{"m":"RMSprop","i":520,"v":10.4},{"m":"RMSprop","i":525.6,"v":10.2},{"m":"RMSprop","i":530,"v":10.5},{"m":"RMSprop","i":534,"v":9.5},{"m":"RMSprop","i":539.4,"v":9.3},{"m":"RMSprop","i":544,"v":9.6},{"m":"RMSprop","i":548,"v":8.6},{"m":"RMSprop","i":553.1,"v":8},{"m":"RMSprop","i":558,"v":8.4},{"m":"RMSprop","i":562,"v":7.6},{"m":"RMSprop","i":566.8,"v":7.3},{"m":"RMSprop","i":571,"v":7.6},{"m":"RMSprop","i":575,"v":7},{"m":"RMSprop","i":580.6,"v":6.8},{"m":"RMSprop","i":585,"v":7.1},{"m":"RMSprop","i":590,"v":6.4},{"m":"RMSprop","i":594.2,"v":6.1},{"m":"RMSprop","i":600,"v":6.3},{"m":"RMSprop","i":604,"v":5.8},{"m":"RMSprop","i":607.8,"v":5.6},{"m":"RMSprop","i":614,"v":5.7},{"m":"RMSprop","i":621.7,"v":4.9},{"m":"RMSprop","i":628,"v":5.1},{"m":"RMSprop","i":635.4,"v":4.4},{"m":"RMSprop","i":642,"v":4.6},{"m":"RMSprop","i":649.2,"v":4.4},{"m":"RMSprop","i":656,"v":4.2},{"m":"RMSprop","i":662.8,"v":4.1},{"m":"RMSprop","i":670,"v":4.2},{"m":"RMSprop","i":676.4,"v":4.1},{"m":"RMSprop","i":683,"v":3.6},{"m":"RMSprop","i":690.3,"v":3.2},{"m":"RMSprop","i":697,"v":3.3},{"m":"RMSprop","i":704,"v":2.9},{"m":"RMSprop","i":715,"v":3},{"m":"RMSprop","i":725,"v":2.7},{"m":"RMSprop","i":735,"v":2.6},{"m":"RMSprop","i":745.3,"v":2.4},{"m":"RMSprop","i":758,"v":2.3},{"m":"RMSprop","i":772.5,"v":2},{"m":"RMSprop","i":791,"v":2},

      {"m":"L2LBGDBGD","i":0,"v":260},{"m":"L2LBGDBGD","i":3.7,"v":218},{"m":"L2LBGDBGD","i":5.8,"v":140},{"m":"L2LBGDBGD","i":9,"v":120.7},{"m":"L2LBGDBGD","i":12.3,"v":110},{"m":"L2LBGDBGD","i":15.5,"v":102},{"m":"L2LBGDBGD","i":16.6,"v":92.2},{"m":"L2LBGDBGD","i":17.5,"v":85.8},{"m":"L2LBGDBGD","i":19.9,"v":79.3},{"m":"L2LBGDBGD","i":24,"v":78.5},{"m":"L2LBGDBGD","i":27.2,"v":78.5},{"m":"L2LBGDBGD","i":29.5,"v":77},{"m":"L2LBGDBGD","i":31.7,"v":75},{"m":"L2LBGDBGD","i":35,"v":70},{"m":"L2LBGDBGD","i":39.3,"v":65.4},{"m":"L2LBGDBGD","i":42.5,"v":63},{"m":"L2LBGDBGD","i":45,"v":61.5},{"m":"L2LBGDBGD","i":47.9,"v":59.8},{"m":"L2LBGDBGD","i":50.5,"v":59},{"m":"L2LBGDBGD","i":53,"v":57.3},{"m":"L2LBGDBGD","i":57,"v":55},{"m":"L2LBGDBGD","i":60.8,"v":53.7},{"m":"L2LBGDBGD","i":65.2,"v":53.2},{"m":"L2LBGDBGD","i":68,"v":52},{"m":"L2LBGDBGD","i":71.6,"v":51.2},{"m":"L2LBGDBGD","i":73.5,"v":52.8},{"m":"L2LBGDBGD","i":75,"v":52.2},{"m":"L2LBGDBGD","i":78.1,"v":54.1},{"m":"L2LBGDBGD","i":80,"v":52.5},{"m":"L2LBGDBGD","i":82.2,"v":51.7},{"m":"L2LBGDBGD","i":85,"v":53},{"m":"L2LBGDBGD","i":88.7,"v":54.1},{"m":"L2LBGDBGD","i":91,"v":52.5},{"m":"L2LBGDBGD","i":93,"v":51},{"m":"L2LBGDBGD","i":95.5,"v":49.5},{"m":"L2LBGDBGD","i":97.5,"v":48.3},{"m":"L2LBGDBGD","i":99.5,"v":51},{"m":"L2LBGDBGD","i":101.6,"v":54.9},{"m":"L2LBGDBGD","i":105,"v":57},{"m":"L2LBGDBGD","i":108.1,"v":59},{"m":"L2LBGDBGD","i":111,"v":57.5},{"m":"L2LBGDBGD","i":113.7,"v":55.6},{"m":"L2LBGDBGD","i":117,"v":58},{"m":"L2LBGDBGD","i":121,"v":64},{"m":"L2LBGDBGD","i":125.6,"v":70.2},{"m":"L2LBGDBGD","i":129,"v":78},{"m":"L2LBGDBGD","i":132,"v":84.1},{"m":"L2LBGDBGD","i":135.5,"v":82.5},{"m":"L2LBGDBGD","i":138.5,"v":81},{"m":"L2LBGDBGD","i":141,"v":76},{"m":"L2LBGDBGD","i":142.8,"v":72.7},{"m":"L2LBGDBGD","i":145,"v":76},{"m":"L2LBGDBGD","i":146.9,"v":79.3},{"m":"L2LBGDBGD","i":149,"v":84},{"m":"L2LBGDBGD","i":151.5,"v":89},{"m":"L2LBGDBGD","i":153.5,"v":96},{"m":"L2LBGDBGD","i":155.8,"v":102},{"m":"L2LBGDBGD","i":158.5,"v":106.5},{"m":"L2LBGDBGD","i":161.2,"v":108.5},{"m":"L2LBGDBGD","i":163.5,"v":103},{"m":"L2LBGDBGD","i":166.3,"v":95.6},{"m":"L2LBGDBGD","i":169,"v":96.2},{"m":"L2LBGDBGD","i":171,"v":95.5},{"m":"L2LBGDBGD","i":173,"v":95.8},{"m":"L2LBGDBGD","i":175.2,"v":94.6},{"m":"L2LBGDBGD","i":178,"v":93},{"m":"L2LBGDBGD","i":181.7,"v":90.7},{"m":"L2LBGDBGD","i":183.5,"v":86},{"m":"L2LBGDBGD","i":185.8,"v":79.3},{"m":"L2LBGDBGD","i":188,"v":84},{"m":"L2LBGDBGD","i":190.3,"v":89.8},{"m":"L2LBGDBGD","i":194.6,"v":91.5},{"m":"L2LBGDBGD","i":198.7,"v":96.3},{"m":"L2LBGDBGD","i":201,"v":97},{"m":"L2LBGDBGD","i":204.3,"v":94.6},{"m":"L2LBGDBGD","i":207,"v":96.5},{"m":"L2LBGDBGD","i":209.7,"v":98.8},{"m":"L2LBGDBGD","i":211.5,"v":97.5},{"m":"L2LBGDBGD","i":213,"v":95},{"m":"L2LBGDBGD","i":215,"v":91},{"m":"L2LBGDBGD","i":216.2,"v":89.8},{"m":"L2LBGDBGD","i":219.4,"v":87.3},{"m":"L2LBGDBGD","i":223.8,"v":81.7},{"m":"L2LBGDBGD","i":226,"v":85},{"m":"L2LBGDBGD","i":229.1,"v":90.7},{"m":"L2LBGDBGD","i":231.5,"v":91.5},{"m":"L2LBGDBGD","i":233.5,"v":92.2},{"m":"L2LBGDBGD","i":235.5,"v":88},{"m":"L2LBGDBGD","i":237,"v":85},{"m":"L2LBGDBGD","i":239.9,"v":76.3},{"m":"L2LBGDBGD","i":242,"v":78},{"m":"L2LBGDBGD","i":244,"v":82.4},{"m":"L2LBGDBGD","i":246,"v":88},{"m":"L2LBGDBGD","i":248.5,"v":95.6},{"m":"L2LBGDBGD","i":250,"v":100.5},{"m":"L2LBGDBGD","i":251.8,"v":104.4},{"m":"L2LBGDBGD","i":253.5,"v":106.8},{"m":"L2LBGDBGD","i":255,"v":106.8},{"m":"L2LBGDBGD","i":256.5,"v":105},{"m":"L2LBGDBGD","i":258.3,"v":103.7},{"m":"L2LBGDBGD","i":260,"v":103.7},{"m":"L2LBGDBGD","i":261.5,"v":103.7},{"m":"L2LBGDBGD","i":263.5,"v":101},{"m":"L2LBGDBGD","i":266.7,"v":98.8},{"m":"L2LBGDBGD","i":269,"v":102},{"m":"L2LBGDBGD","i":272.3,"v":107.8},{"m":"L2LBGDBGD","i":275,"v":108.8},{"m":"L2LBGDBGD","i":278.8,"v":109.3},{"m":"L2LBGDBGD","i":282.8,"v":108.5},{"m":"L2LBGDBGD","i":285,"v":115},{"m":"L2LBGDBGD","i":287.4,"v":123.2},{"m":"L2LBGDBGD","i":289,"v":124},{"m":"L2LBGDBGD","i":291,"v":126},{"m":"L2LBGDBGD","i":293,"v":129},{"m":"L2LBGDBGD","i":295,"v":131.2},{"m":"L2LBGDBGD","i":298,"v":129},{"m":"L2LBGDBGD","i":301.4,"v":128},{"m":"L2LBGDBGD","i":304,"v":134},{"m":"L2LBGDBGD","i":306.8,"v":140.2},{"m":"L2LBGDBGD","i":310,"v":146},{"m":"L2LBGDBGD","i":313.3,"v":154},{"m":"L2LBGDBGD","i":316,"v":162},{"m":"L2LBGDBGD","i":319.7,"v":172.7},{"m":"L2LBGDBGD","i":322,"v":174.5},{"m":"L2LBGDBGD","i":325.1,"v":176.3},{"m":"L2LBGDBGD","i":327.5,"v":172},{"m":"L2LBGDBGD","i":330.5,"v":168.8},{"m":"L2LBGDBGD","i":332.5,"v":158},{"m":"L2LBGDBGD","i":334.8,"v":147.6},{"m":"L2LBGDBGD","i":337,"v":134},{"m":"L2LBGDBGD","i":338.7,"v":125.1},{"m":"L2LBGDBGD","i":341,"v":128},{"m":"L2LBGDBGD","i":343.5,"v":132.9},{"m":"L2LBGDBGD","i":345.5,"v":142},{"m":"L2LBGDBGD","i":347.8,"v":155.6},{"m":"L2LBGDBGD","i":350.5,"v":171},{"m":"L2LBGDBGD","i":353.2,"v":186.6},{"m":"L2LBGDBGD","i":356,"v":195},{"m":"L2LBGDBGD","i":358.6,"v":199},{"m":"L2LBGDBGD","i":360.5,"v":198},{"m":"L2LBGDBGD","i":362.5,"v":193.2},{"m":"L2LBGDBGD","i":364.5,"v":180},{"m":"L2LBGDBGD","i":366,"v":170},{"m":"L2LBGDBGD","i":367.2,"v":162.2},{"m":"L2LBGDBGD","i":370,"v":159},{"m":"L2LBGDBGD","i":373.7,"v":154},{"m":"L2LBGDBGD","i":376.5,"v":146},{"m":"L2LBGDBGD","i":379.1,"v":137.8},{"m":"L2LBGDBGD","i":381,"v":140},{"m":"L2LBGDBGD","i":382.5,"v":144},{"m":"L2LBGDBGD","i":384.5,"v":151.7},{"m":"L2LBGDBGD","i":387,"v":170},{"m":"L2LBGDBGD","i":389,"v":186},{"m":"L2LBGDBGD","i":391,"v":196.3},{"m":"L2LBGDBGD","i":394,"v":207},{"m":"L2LBGDBGD","i":397,"v":214},{"m":"L2LBGDBGD","i":399.6,"v":210.2},{"m":"L2LBGDBGD","i":402,"v":196},{"m":"L2LBGDBGD","i":404,"v":180},{"m":"L2LBGDBGD","i":406,"v":158},{"m":"L2LBGDBGD","i":408.9,"v":130},{"m":"L2LBGDBGD","i":410.5,"v":134},{"m":"L2LBGDBGD","i":412.5,"v":147.6},{"m":"L2LBGDBGD","i":415,"v":165},{"m":"L2LBGDBGD","i":417,"v":178},{"m":"L2LBGDBGD","i":419,"v":186.6},{"m":"L2LBGDBGD","i":422.2,"v":194.6},{"m":"L2LBGDBGD","i":424,"v":195.5},{"m":"L2LBGDBGD","i":425.9,"v":197},{"m":"L2LBGDBGD","i":428,"v":192},{"m":"L2LBGDBGD","i":430.9,"v":186.6},{"m":"L2LBGDBGD","i":433,"v":180},{"m":"L2LBGDBGD","i":435.1,"v":177.6},{"m":"L2LBGDBGD","i":437,"v":182},{"m":"L2LBGDBGD","i":438.5,"v":186},{"m":"L2LBGDBGD","i":440.5,"v":185.9},{"m":"L2LBGDBGD","i":442.5,"v":184},{"m":"L2LBGDBGD","i":444.8,"v":181},{"m":"L2LBGDBGD","i":447,"v":175},{"m":"L2LBGDBGD","i":448.5,"v":170},{"m":"L2LBGDBGD","i":450.3,"v":164.6},{"m":"L2LBGDBGD","i":452.4,"v":163.4},{"m":"L2LBGDBGD","i":455,"v":170},{"m":"L2LBGDBGD","i":457.8,"v":181.7},{"m":"L2LBGDBGD","i":459.5,"v":192},{"m":"L2LBGDBGD","i":461.7,"v":207.8},{"m":"L2LBGDBGD","i":463,"v":212},{"m":"L2LBGDBGD","i":465.4,"v":215},{"m":"L2LBGDBGD","i":466.5,"v":218},{"m":"L2LBGDBGD","i":468.6,"v":226},{"m":"L2LBGDBGD","i":478,"v":228},{"m":"L2LBGDBGD","i":481.6,"v":214},{"m":"L2LBGDBGD","i":484,"v":218},{"m":"L2LBGDBGD","i":486.7,"v":230},{"m":"L2LBGDBGD","i":492,"v":245},

      {"m":"Predicted Step Descent","i":0,"v":190},{"m":"Predicted Step Descent","i":0.6,"v":142},{"m":"Predicted Step Descent","i":1.2,"v":111.7},{"m":"Predicted Step Descent","i":2,"v":125},{"m":"Predicted Step Descent","i":2.6,"v":122.4},{"m":"Predicted Step Descent","i":3.5,"v":130},{"m":"Predicted Step Descent","i":4.7,"v":114},{"m":"Predicted Step Descent","i":5.8,"v":128},{"m":"Predicted Step Descent","i":7,"v":136},{"m":"Predicted Step Descent","i":8,"v":133},{"m":"Predicted Step Descent","i":9,"v":137.8},{"m":"Predicted Step Descent","i":10,"v":128},{"m":"Predicted Step Descent","i":11,"v":134},{"m":"Predicted Step Descent","i":12.3,"v":130.5},{"m":"Predicted Step Descent","i":13.4,"v":126.3},{"m":"Predicted Step Descent","i":14.5,"v":124},{"m":"Predicted Step Descent","i":15.5,"v":122.4},{"m":"Predicted Step Descent","i":16.5,"v":119},{"m":"Predicted Step Descent","i":17.7,"v":115.9},{"m":"Predicted Step Descent","i":18.8,"v":111.7},{"m":"Predicted Step Descent","i":19.9,"v":108.5},{"m":"Predicted Step Descent","i":21,"v":106},{"m":"Predicted Step Descent","i":22,"v":103.7},{"m":"Predicted Step Descent","i":23,"v":99},{"m":"Predicted Step Descent","i":24.1,"v":97},{"m":"Predicted Step Descent","i":25.2,"v":98},{"m":"Predicted Step Descent","i":26.3,"v":90},{"m":"Predicted Step Descent","i":27.3,"v":86},{"m":"Predicted Step Descent","i":28.5,"v":85},{"m":"Predicted Step Descent","i":30.6,"v":76},{"m":"Predicted Step Descent","i":32,"v":70},{"m":"Predicted Step Descent","i":35,"v":61},{"m":"Predicted Step Descent","i":37.5,"v":56},{"m":"Predicted Step Descent","i":40.3,"v":51.7},{"m":"Predicted Step Descent","i":42.5,"v":49},{"m":"Predicted Step Descent","i":44.5,"v":46},{"m":"Predicted Step Descent","i":45.8,"v":40.2},{"m":"Predicted Step Descent","i":47.9,"v":32.2},{"m":"Predicted Step Descent","i":50,"v":29},{"m":"Predicted Step Descent","i":52,"v":27.3},{"m":"Predicted Step Descent","i":55,"v":24},{"m":"Predicted Step Descent","i":57.6,"v":21.5},{"m":"Predicted Step Descent","i":60,"v":19},{"m":"Predicted Step Descent","i":63,"v":16.6},{"m":"Predicted Step Descent","i":66,"v":14.8},{"m":"Predicted Step Descent","i":68.6,"v":13.4},{"m":"Predicted Step Descent","i":71,"v":11.4},{"m":"Predicted Step Descent","i":74,"v":9.3},{"m":"Predicted Step Descent","i":77,"v":7.2},{"m":"Predicted Step Descent","i":79.5,"v":5.4},{"m":"Predicted Step Descent","i":83,"v":4.4},{"m":"Predicted Step Descent","i":87.7,"v":3.7},{"m":"Predicted Step Descent","i":95.8,"v":2.9},{"m":"Predicted Step Descent","i":110,"v":2.6},{"m":"Predicted Step Descent","i":123.4,"v":2.4},{"m":"Predicted Step Descent","i":150,"v":2.4},{"m":"Predicted Step Descent","i":156.3,"v":2.4},{"m":"Predicted Step Descent","i":159,"v":2.9},{"m":"Predicted Step Descent","i":162,"v":2.4},{"m":"Predicted Step Descent","i":205.6,"v":2.4},{"m":"Predicted Step Descent","i":300,"v":2.3},{"m":"Predicted Step Descent","i":361,"v":2.2},{"m":"Predicted Step Descent","i":500,"v":2.1},{"m":"Predicted Step Descent","i":791,"v":2.0}
    ]
  },
  "encoding": {
    "x": {
      "field": "i", "type": "quantitative",
      "scale": {"domain": [0, 791], "nice": false, "zero": false},
      "axis": {"values": [0, 100, 200, 300, 400, 500, 600, 700], "title": "Iteration", "labelPadding": 18, "titlePadding": 10, "titleX": 617, "titleAlign": "center"}
    },
    "y": {
      "field": "v", "type": "quantitative",
      "scale": {"domain": [1.46, 218.3], "nice": false, "zero": false},
      "axis": {"values": [50, 100, 150, 200], "title": "Objective Value", "labelPadding": 16, "titlePadding": 12}
    }
  },
  "layer": [
    {
      "data": {"name": "curves"},
      "mark": {"type": "line", "strokeWidth": 2.6, "clip": true},
      "encoding": {
        "color": {
          "field": "m", "type": "nominal",
          "scale": {
            "domain": ["Gradient Descent", "Momentum", "Conjugate Gradient", "L-BFGS", "AdaGrad", "ADAM", "RMSprop", "L2LBGDBGD", "Predicted Step Descent"],
            "range": ["#2029cc", "#a044a8", "#ff8028", "#3c7d46", "#cc33ff", "#8b0016", "#000000", "#1f8fe5", "#d2561f"]
          },
          "legend": {
            "title": null,
            "orient": "none",
            "legendX": 730,
            "legendY": 10.5,
            "zindex": 1,
            "symbolType": "stroke",
            "symbolSize": 2209,
            "symbolStrokeWidth": 2.5,
            "symbolOffset": 12,
            "labelFont": "DejaVu Sans",
            "labelFontSize": 32,
            "labelColor": "black",
            "labelOffset": 31,
            "labelLimit": 0,
            "rowPadding": 4.7,
            "padding": 9,
            "fillColor": "white",
            "strokeColor": "black",
            "cornerRadius": 0,
            "encode": {"legend": {"update": {"strokeWidth": {"value": 2}}}}
          }
        }
      }
    },
    {
      "data": {"values": [{"i": -80, "i2": 800, "v": 33.3, "v2": -20}]},
      "mark": {"type": "rect", "fill": "white", "opacity": 0.74, "stroke": null},
      "encoding": {
        "x2": {"field": "i2"},
        "y2": {"field": "v2"}
      }
    },
    {
      "data": {"values": [
        {"k": 0, "i": 83.5, "v": 49.0},
        {"k": 1, "i": 87.4, "v": 35.6},
        {"k": 2, "i": 77.7, "v": 38.8},
        {"k": 3, "i": 49.2, "v": 25.6},
        {"k": 4, "i": 30.4, "v": 30.7},
        {"k": 5, "i": 62.1, "v": 44.4},
        {"k": 6, "i": 48.5, "v": 47.6},
        {"k": 7, "i": 83.5, "v": 49.0}
      ]},
      "mark": {"type": "line", "fill": "#fde3b0", "stroke": "#d8a00a", "strokeWidth": 6, "strokeJoin": "miter"},
      "encoding": {
        "order": {"field": "k", "type": "quantitative"}
      }
    },
    {
      "data": {"values": [{"t": "Optimization algorithm trained using supervised", "i": -101.3, "v": 12.2}]},
      "mark": {"type": "text", "align": "left", "baseline": "alphabetic", "font": "Open Sans", "fontSize": 64, "color": "#2e6080"},
      "encoding": {
        "text": {"field": "t"}
      }
    },
    {
      "data": {"values": [{"t": "learning does reasonably well initially.", "i": 624, "v": -8.9}]},
      "mark": {"type": "text", "align": "right", "baseline": "alphabetic", "font": "Open Sans", "fontSize": 64, "color": "#2e6080"},
      "encoding": {
        "text": {"field": "t"}
      }
    }
  ]
}
